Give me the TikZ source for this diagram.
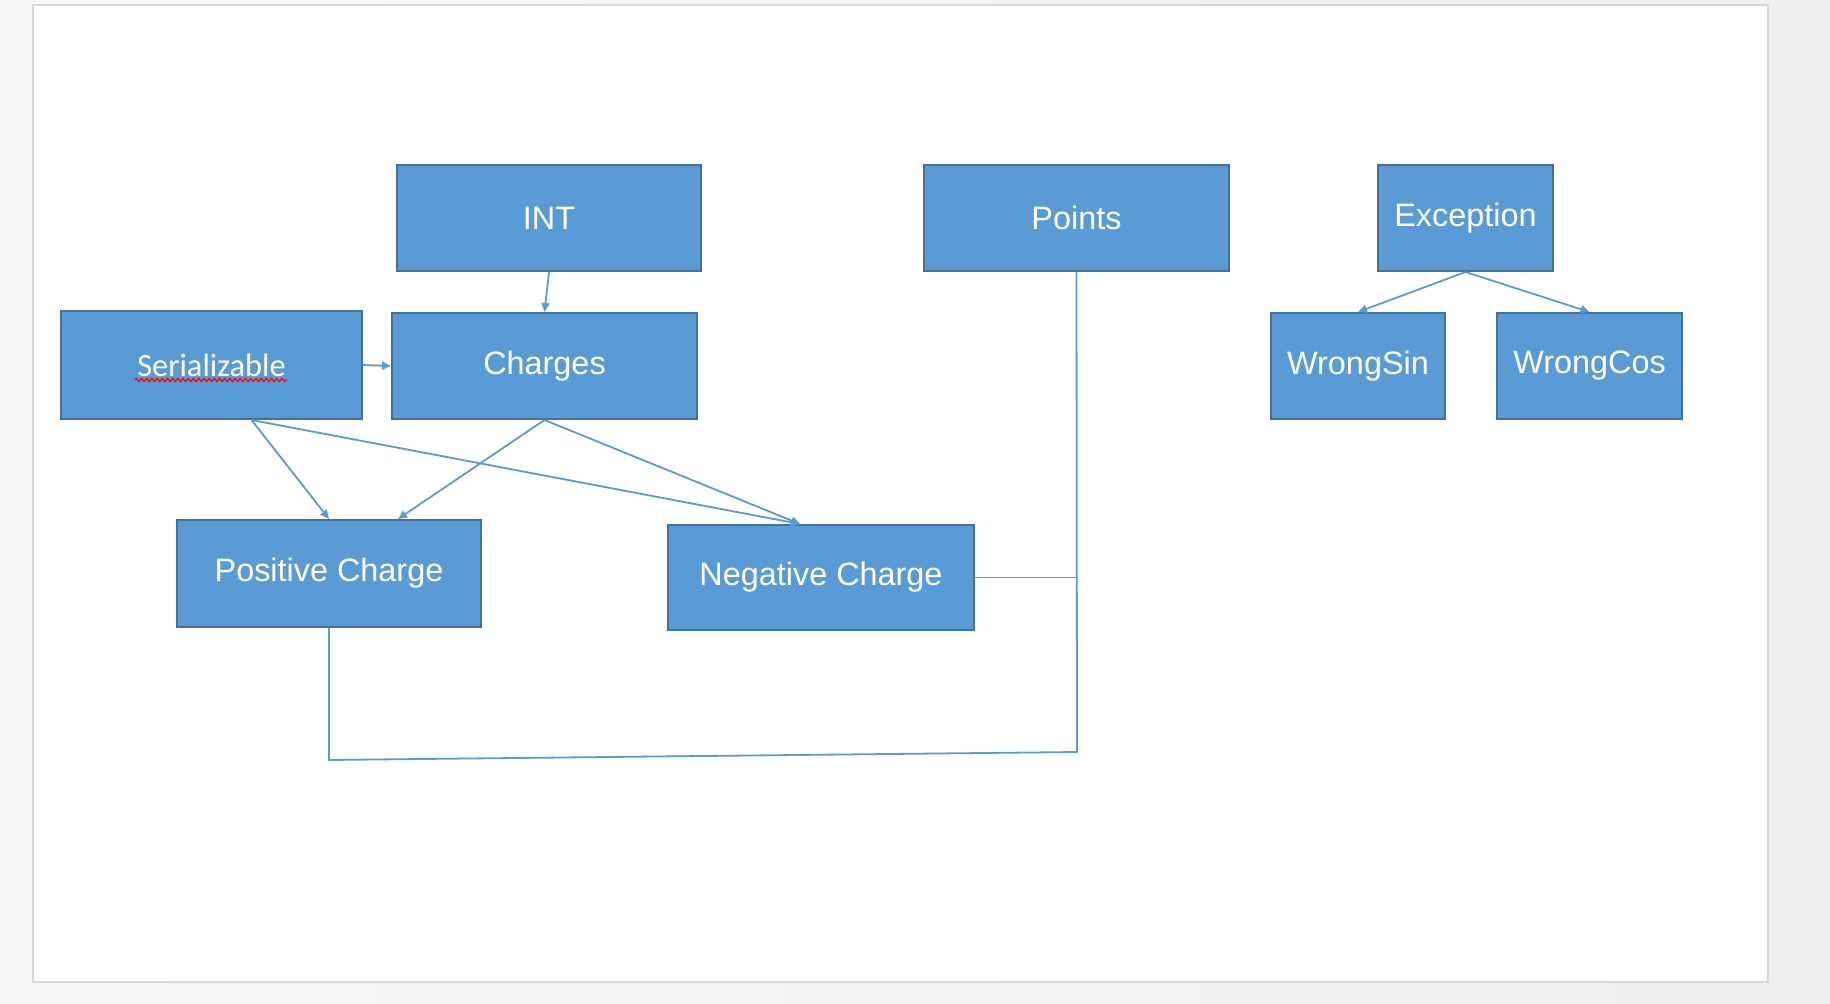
\documentclass[tikz,border=0pt]{standalone}
\usepackage{fontspec}
\setmainfont{Liberation Sans}
\newfontfamily\calibri{Carlito}
\definecolor{boxblue}{HTML}{5B9BD5}
\definecolor{boxedge}{HTML}{41719C}
\definecolor{pageline}{HTML}{D8D8D8}
\usetikzlibrary{arrows.meta, calc, decorations.pathmorphing}

\begin{document}
\begin{tikzpicture}[x=0.5pt, y=-0.5pt,
	cls/.style = {draw = boxedge, line width = 1pt, fill = boxblue, text = white, font = \fontsize{16.2}{19}\selectfont, inner sep = 0pt, minimum height = 53pt},
	link/.style = {draw = boxblue, line width = 0.9pt},
	inh/.style = {link, -{Triangle[length=4.5pt, width=4pt]}}]
	% page and background
	\shade[left color = gray!6, right color = gray!13] (0,0) rectangle (1830,1004);
	\useasboundingbox (0,0) rectangle (1830,1004);
	\draw[pageline, line width = 1.2pt, fill = white] (33,5) rectangle (1768,982);
	% classes
	\node[cls, minimum width = 152pt] at (549, 218) (int) {INT};
	\node[cls, minimum width = 152.5pt] at (1076.5, 218) (pts) {Points};
	\node[cls, minimum width = 87.5pt] at (1465.5, 218) (exc) {Exception};
	\node[cls, minimum width = 150.5pt, minimum height = 54pt, font = \fontsize{16.2}{19}\calibri] at (211.5, 365) (ser) {Serializable};
	\node[cls, minimum width = 152.5pt] at (544.5, 366) (chg) {Charges};
	\node[cls, minimum width = 87pt] at (1358, 366) (wsin) {WrongSin};
	\node[cls, minimum width = 92.5pt] at (1589.5, 366) (wcos) {WrongCos};
	\node[cls, minimum width = 152pt, minimum height = 53.5pt] at (329, 573.5) (pos) {Positive Charge};
	\node[cls, minimum width = 153pt, minimum height = 52.5pt] at (821, 577.5) (neg) {Negative Charge};
	\draw[red, line width = 0.6pt, decorate, decoration = {zigzag, segment length = 2.6pt, amplitude = 0.8pt}] (135, 380) -- (287, 380);
	% arrows
	\draw[inh] (int.south) -- (chg.north);
	\draw[inh] (ser.east) -- (chg.west);
	\draw[inh] ([xshift = 20pt]ser.south) -- (pos.north);
	\draw[inh] ([xshift = 20pt]ser.south) -- ([xshift = -10.5pt]neg.north);
	\draw[inh] (chg.south) -- ([xshift = 34.5pt]pos.north);
	\draw[inh] (chg.south) -- ([xshift = -10.5pt]neg.north);
	\draw[inh] (exc.south) -- (wsin.north);
	\draw[inh] (exc.south) -- (wcos.north);
	% points lines
	\coordinate (c1) at (1077, 752);
	\coordinate (c2) at (329, 760);
	\draw[link] (pts.south) -- (c1) -- (c2) -- (pos.south);
	\draw[link] (neg.east) -- (neg.east -| pts.south);
\end{tikzpicture}
\end{document}
